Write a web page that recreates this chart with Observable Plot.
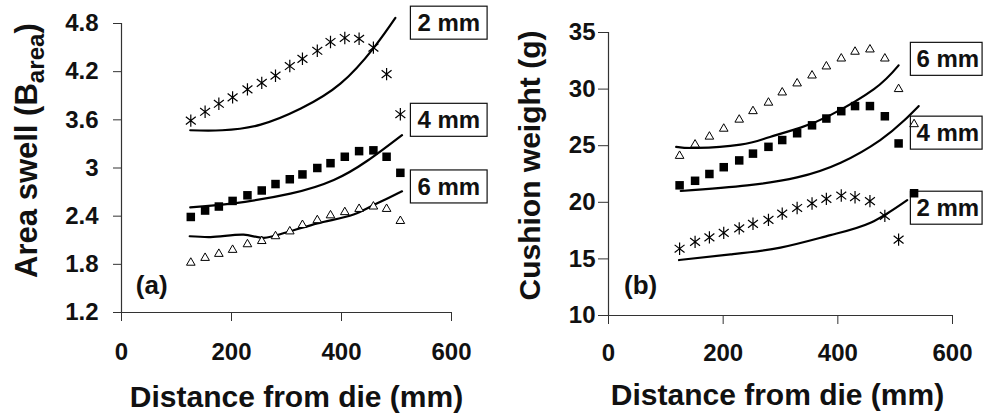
<!DOCTYPE html>
<html><head><meta charset="utf-8">
<script src="https://cdn.jsdelivr.net/npm/d3@7"></script>
<script src="https://cdn.jsdelivr.net/npm/@observablehq/plot@0.6"></script>
<style>
body{margin:0;background:#fff;}
#wrap{display:flex;width:983px;height:414px;overflow:hidden;background:#fff;}
#wrap svg{flex:none;}
</style></head><body><div id="wrap"></div>
<script>
// ---------- Panel (a): area swell ----------
const distA = [126,152,177,202,229,255,280,306,329,356,380,406,432,458,482,507];
const swell2mm = [3.59,3.70,3.80,3.88,3.98,4.06,4.15,4.27,4.36,4.46,4.57,4.62,4.61,4.50,4.17,3.67];
const swell4mm = [2.39,2.47,2.52,2.59,2.66,2.72,2.80,2.86,2.92,3.00,3.06,3.14,3.21,3.22,3.14,2.94];
const swell6mm = [1.82,1.88,1.93,1.98,2.05,2.09,2.15,2.21,2.29,2.35,2.41,2.45,2.49,2.52,2.49,2.34];
const fitA2x = [125,183,253,326,398,459,498];
const fitA2y = [3.47,3.47,3.54,3.74,4.05,4.50,4.87];
const fitA4x = [125,204,307,386,447,510];
const fitA4y = [2.51,2.56,2.68,2.85,3.09,3.41];
const fitA6x = [124,162,222,259,301,356,422,465,510];
const fitA6y = [2.15,2.14,2.17,2.13,2.20,2.31,2.42,2.56,2.71];
const yTicksA = [1.2,1.8,2.4,3,3.6,4.2,4.8];
const labelsA = ["2 mm","4 mm","6 mm"];
const labelAy = [4.80,3.59,2.76];
const labelAx = 595;

// ---------- Panel (b): cushion weight ----------
const distB = [124,151,176,201,228,252,279,303,329,355,380,406,430,456,482,506,533];
const weight6mm = [24.1,25.1,25.8,26.5,27.3,28.05,28.8,29.7,30.5,31.2,32.0,32.7,33.3,33.5,32.7,30.0,26.9];
const weight4mm = [21.5,21.9,22.5,23.1,23.7,24.3,24.9,25.5,26.1,26.8,27.4,28.05,28.5,28.5,27.6,25.2,20.8];
const weight2mm = [15.9,16.5,16.9,17.3,17.7,18.1,18.45,19.0,19.5,19.9,20.3,20.6,20.45,20.1,18.8,16.7];
const fitB6x = [118,155,230,277,335,387,463,506];
const fitB6y = [24.9,24.8,25.1,25.7,26.6,27.7,30.0,32.1];
const fitB4x = [126,242,329,405,474,515,541];
const fitB4y = [21.0,21.5,22.2,23.5,25.5,27.2,28.5];
const fitB2x = [123,213,300,387,457,521];
const fitB2y = [14.9,15.4,16.0,17.1,18.2,20.2];
const yTicksB = [10,15,20,25,30,35];
const labelsB = ["6 mm","4 mm","2 mm"];
const labelBy = [32.6,26.08,19.45];
const labelBx = 537;

const xTicks = [0,200,400,600];
const xTitle = "Distance from die (mm)";

const FONT = '"Liberation Sans", Arial, Helvetica, sans-serif';
const AX = "#333";

const star = {
  draw(ctx, size) {
    const r = Math.sqrt(size / Math.PI), a = r * 0.8, b = r * 0.62;
    ctx.moveTo(0, -r); ctx.lineTo(0, r);
    ctx.moveTo(-a, -b); ctx.lineTo(a, b);
    ctx.moveTo(-a, b); ctx.lineTo(a, -b);
  }
};

const pts = (xs, ys) => ys.map((y, i) => ({x: xs[i], y}));

function seriesMarks(xs, y2, y4, y6) {
  return [
    Plot.dot(pts(xs, y2), {x: "x", y: "y", symbol: star, r: 6.2, stroke: "black", fill: "none", strokeWidth: 1.2}),
    Plot.dot(pts(xs, y4), {x: "x", y: "y", symbol: "square", r: 4.8, fill: "black", stroke: "none"}),
    Plot.dot(pts(xs, y6), {x: "x", y: "y", symbol: "triangle", r: 3.2, fill: "white", stroke: "black", strokeWidth: 1})
  ];
}
function fitLine(xs, ys, curve) {
  return Plot.line(pts(xs, ys), {x: "x", y: "y", stroke: "black", strokeWidth: 2.2, curve: curve || "catmull-rom"});
}

const A = Plot.plot({
  width: 495, height: 414,
  marginLeft: 121, marginRight: 44, marginTop: 23, marginBottom: 102,
  style: {fontFamily: FONT, color: "#111", background: "white", overflow: "visible"},
  x: {domain: [0, 600]},
  y: {domain: [1.2, 4.8]},
  marks: [
    Plot.axisX({ticks: xTicks, tickSize: 9, tickPadding: 21, fontSize: 24, fontWeight: "bold", stroke: AX, label: null}),
    Plot.axisY({ticks: yTicksA, tickSize: 8, tickPadding: 15, fontSize: 24, fontWeight: "bold", stroke: AX, label: null, tickFormat: d => String(d)}),
    Plot.ruleY([1.2], {stroke: AX, strokeWidth: 1.2}),
    Plot.ruleX([0], {stroke: AX, strokeWidth: 1.2}),
    Plot.text([xTitle], {frameAnchor: "bottom", dx: 10, dy: 85, fontSize: 30, fontWeight: "bold", lineAnchor: "middle", textAnchor: "middle"}),
    Plot.text(["Area swell (Barea)"], {frameAnchor: "left", rotate: -90, dx: -94, dy: -17.5, fontSize: 31, fontWeight: "bold", lineAnchor: "middle", textAnchor: "middle", className: "ytitle"}),
    Plot.text(["(a)"], {x: 55, y: 1.54, fontSize: 26, fontWeight: "bold", lineAnchor: "middle"}),
    Plot.text(labelsA, {x: labelAx, y: labelAy, text: d => d, fontSize: 24, fontWeight: "bold", lineAnchor: "middle", className: "boxlab"}),
    fitLine(fitA2x, fitA2y, "natural"),
    fitLine(fitA4x, fitA4y, "natural"),
    fitLine(fitA6x, fitA6y),
    ...seriesMarks(distA, swell2mm, swell4mm, swell6mm)
  ]
});

const B = Plot.plot({
  width: 488, height: 414,
  marginLeft: 113, marginRight: 31, marginTop: 32, marginBottom: 99,
  style: {fontFamily: FONT, color: "#111", background: "white", overflow: "visible"},
  x: {domain: [0, 600]},
  y: {domain: [10, 35]},
  marks: [
    Plot.axisX({ticks: xTicks, tickSize: 9, tickPadding: 19, fontSize: 24, fontWeight: "bold", stroke: AX, label: null}),
    Plot.axisY({ticks: yTicksB, tickSize: 10, tickPadding: 3, fontSize: 24, fontWeight: "bold", stroke: AX, label: null}),
    Plot.ruleY([10], {stroke: AX, strokeWidth: 1.2}),
    Plot.ruleX([0], {stroke: AX, strokeWidth: 1.2}),
    Plot.text([xTitle], {frameAnchor: "bottom", dx: -3, dy: 80, fontSize: 30, fontWeight: "bold", lineAnchor: "middle", textAnchor: "middle"}),
    Plot.text(["Cushion weight (g)"], {frameAnchor: "left", rotate: -90, dx: -78, dy: -8.5, fontSize: 30, fontWeight: "bold", lineAnchor: "middle", textAnchor: "middle"}),
    Plot.text(["(b)"], {x: 56, y: 12.65, fontSize: 26, fontWeight: "bold", lineAnchor: "middle"}),
    Plot.text(labelsB, {x: labelBx, y: labelBy, text: d => d, fontSize: 24, fontWeight: "bold", lineAnchor: "middle", textAnchor: "start", className: "boxlabR"}),
    fitLine(fitB6x, fitB6y, "natural"),
    fitLine(fitB4x, fitB4y, "natural"),
    fitLine(fitB2x, fitB2y, "natural"),
    ...seriesMarks(distB, weight2mm, weight4mm, weight6mm)
  ]
});

const wrap = document.getElementById("wrap");
wrap.append(A, B);

// boxes behind label texts
function boxes(svg, sel, padL, padR, padY) {
  d3.select(svg).selectAll(sel + " text").each(function() {
    const b = this.getBBox();
    const r = document.createElementNS("http://www.w3.org/2000/svg", "rect");
    r.setAttribute("x", b.x - padL);
    r.setAttribute("y", b.y - padY);
    r.setAttribute("width", b.width + padL + padR);
    r.setAttribute("height", b.height + 2 * padY);
    r.setAttribute("fill", "white");
    r.setAttribute("stroke", "#111");
    r.setAttribute("stroke-width", "1.2");
    const t = this.getAttribute("transform");
    if (t) r.setAttribute("transform", t);
    this.parentNode.insertBefore(r, this);
  });
}
boxes(A, ".boxlab", 7, 7, 3);
boxes(B, ".boxlabR", 6, 3, 3);

// subscript in y title of panel (a)
d3.select(A).selectAll(".ytitle text").each(function() {
  const el = d3.select(this);
  el.text(null);
  el.append("tspan").text("Area swell (B");
  el.append("tspan").attr("font-size", "0.78em").attr("dy", 7).text("area");
  el.append("tspan").attr("dy", -7).text(")");
});
</script>
</body></html>
